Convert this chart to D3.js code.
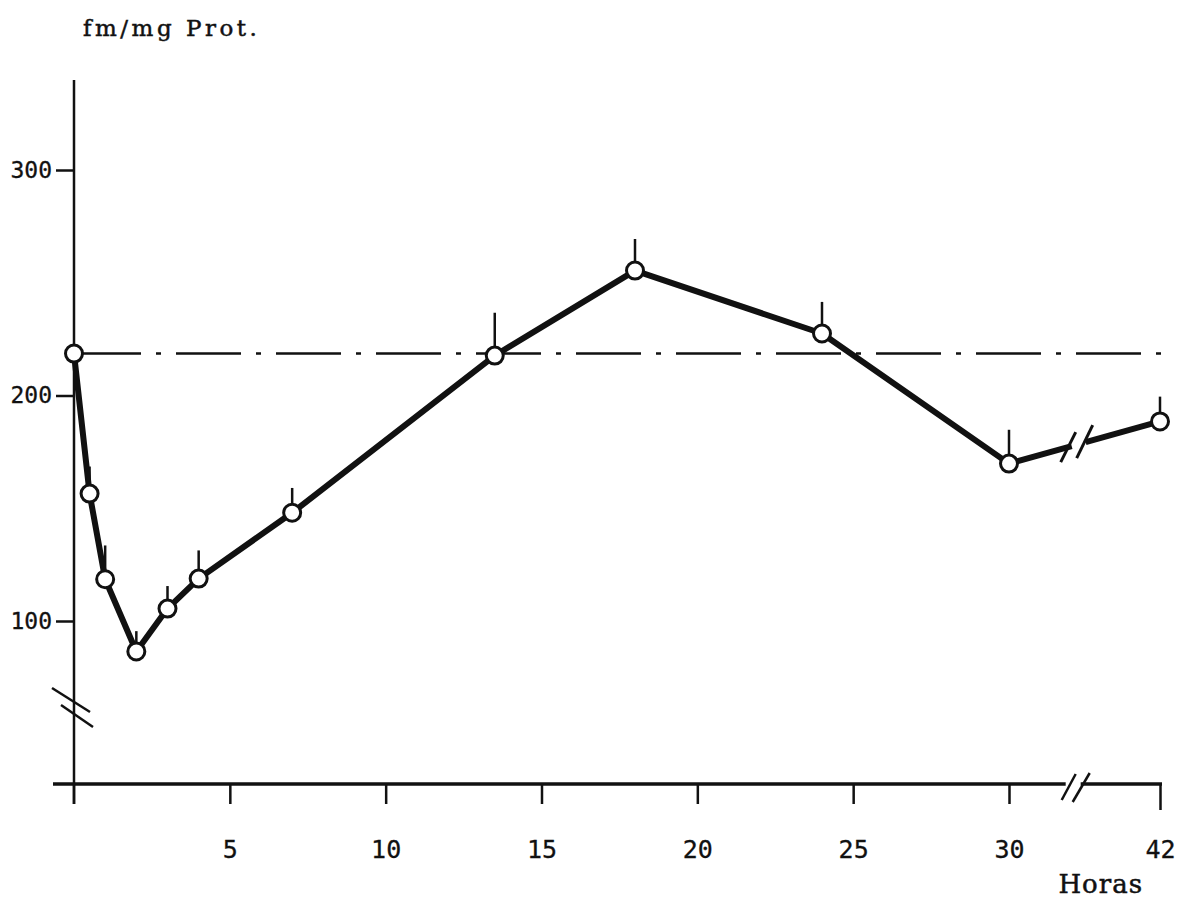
<!DOCTYPE html>
<html>
<head>
<meta charset="utf-8">
<script src="https://cdn.jsdelivr.net/npm/d3@7"></script>
<style>
  body { margin: 0; background: #fff; }
  svg { display: block; }
</style>
</head>
<body>
<svg id="chart" width="1182" height="903"></svg>
<script>
// data
var hours = [0, 0.5, 1, 2, 3, 4, 7, 13.5, 18, 24, 30, 42];
var means = [218.6, 156.5, 118.5, 86.5, 105.5, 118.8, 148, 217.7, 255.4, 227.5, 169.8, 188.5];
var errs = [0, 12, 15, 9, 10, 12.5, 11, 19, 14, 14, 15, 11];
var control = 218.6;
var xTicks = [5, 10, 15, 20, 25, 30, 42];
var yTicks = [100, 200, 300];

var svg = d3.select("#chart");

// x is compressed after 30 h (axis break)
var x = d3.scaleLinear().domain([0, 30, 42]).range([74, 1009, 1160]);
var y = d3.scaleLinear().domain([100, 300]).range([621, 170]);
var axisY = 784;
var breakHour = 35.3;

var ink = "#111";

// title
svg.append("text")
  .attr("x", 83)
  .attr("y", 36)
  .attr("font-family", "DejaVu Serif")
  .attr("font-size", 23)
  .attr("letter-spacing", 3.5)
  .attr("fill", ink)
  .attr("stroke", ink)
  .attr("stroke-width", 0.5)
  .text("fm/mg Prot.");

// y axis line
svg.append("line")
  .attr("x1", 74).attr("x2", 74)
  .attr("y1", 80).attr("y2", 804)
  .attr("stroke", ink).attr("stroke-width", 2.5);

// y axis ticks + labels
var yAxis = d3.axisLeft(y).tickValues(yTicks).tickSize(18).tickPadding(4);
var gy = svg.append("g").attr("transform", "translate(74,0)").call(yAxis);
gy.select(".domain").remove();
gy.selectAll(".tick line").attr("stroke", ink).attr("stroke-width", 2.5);
gy.selectAll(".tick text")
  .attr("font-family", "DejaVu Sans Mono")
  .attr("font-size", 23)
  .attr("fill", ink)
  .attr("stroke", ink)
  .attr("stroke-width", 0.3);

// y axis break marks
[[52, 688, 90, 712], [61, 705, 93, 727]].forEach(function (s) {
  svg.append("line")
    .attr("x1", s[0]).attr("y1", s[1]).attr("x2", s[2]).attr("y2", s[3])
    .attr("stroke", ink).attr("stroke-width", 2.5);
});

// x axis line (with break)
var xb = x(breakHour);
svg.append("line")
  .attr("x1", 53).attr("x2", xb - 10)
  .attr("y1", axisY).attr("y2", axisY)
  .attr("stroke", ink).attr("stroke-width", 3.5);
svg.append("line")
  .attr("x1", xb + 5).attr("x2", 1162)
  .attr("y1", axisY).attr("y2", axisY)
  .attr("stroke", ink).attr("stroke-width", 3.5);
svg.append("line")
  .attr("x1", xb - 14).attr("y1", axisY + 16).attr("x2", xb).attr("y2", axisY - 10)
  .attr("stroke", ink).attr("stroke-width", 2.5);
svg.append("line")
  .attr("x1", xb - 3).attr("y1", axisY + 18).attr("x2", xb + 14).attr("y2", axisY - 11)
  .attr("stroke", ink).attr("stroke-width", 2.5);

// x ticks + labels
var xAxis = d3.axisBottom(x).tickValues(xTicks).tickSize(20).tickPadding(36);
var gx = svg.append("g").attr("transform", "translate(0," + axisY + ")").call(xAxis);
gx.select(".domain").remove();
gx.selectAll(".tick line").attr("stroke", ink).attr("stroke-width", 2.5)
  .attr("y2", function (d) { return d === 42 ? 26 : 20; });
gx.selectAll(".tick text")
  .attr("font-family", "DejaVu Sans Mono")
  .attr("font-size", 25)
  .attr("fill", ink)
  .attr("stroke", ink)
  .attr("stroke-width", 0.3);
svg.append("line")
  .attr("x1", 74).attr("x2", 74).attr("y1", axisY).attr("y2", axisY + 20)
  .attr("stroke", ink).attr("stroke-width", 2.5);

// x axis title
svg.append("text")
  .attr("x", 1143)
  .attr("y", 893)
  .attr("text-anchor", "end")
  .attr("font-family", "DejaVu Serif")
  .attr("font-size", 26)
  .attr("letter-spacing", 1)
  .attr("fill", ink)
  .attr("stroke", ink)
  .attr("stroke-width", 0.5)
  .text("Horas");

// control level, dash-dot
svg.append("line")
  .attr("x1", 76).attr("x2", 1176)
  .attr("y1", y(control)).attr("y2", y(control))
  .attr("stroke", ink).attr("stroke-width", 2.5)
  .attr("stroke-dasharray", "65,15,5,15");

// error bars (upper only)
svg.append("g").selectAll("line")
  .data(hours.map(function (h, i) { return { h: h, m: means[i], e: errs[i] }; }).filter(function (d) { return d.e > 0; }))
  .join("line")
  .attr("x1", function (d) { return x(d.h); })
  .attr("x2", function (d) { return x(d.h); })
  .attr("y1", function (d) { return y(d.m); })
  .attr("y2", function (d) { return y(d.m + d.e); })
  .attr("stroke", ink).attr("stroke-width", 2.5);

// data line, broken between 30 and 42
var pts = hours.map(function (h, i) { return [x(h), y(means[i])]; });
var line = d3.line();
var n = pts.length;
var p30 = pts[n - 2], p42 = pts[n - 1];
function lerp(px) {
  var t = (px - p30[0]) / (p42[0] - p30[0]);
  return [px, p30[1] + t * (p42[1] - p30[1])];
}
var gapA = lerp(xb - 4), gapB = lerp(xb + 10);
svg.append("path")
  .attr("d", line(pts.slice(0, n - 1).concat([gapA])))
  .attr("fill", "none").attr("stroke", ink).attr("stroke-width", 6)
  .attr("stroke-linejoin", "round");
svg.append("path")
  .attr("d", line([gapB, p42]))
  .attr("fill", "none").attr("stroke", ink).attr("stroke-width", 6);
// break slashes on the data line
[[gapA[0] - 11, gapA[1] + 16, gapA[0] + 4, gapA[1] - 14],
 [gapB[0] - 9, gapB[1] + 16, gapB[0] + 7, gapB[1] - 17]].forEach(function (s) {
  svg.append("line")
    .attr("x1", s[0]).attr("y1", s[1]).attr("x2", s[2]).attr("y2", s[3])
    .attr("stroke", ink).attr("stroke-width", 3);
});

// points
svg.append("g").selectAll("circle")
  .data(pts)
  .join("circle")
  .attr("cx", function (d) { return d[0]; })
  .attr("cy", function (d) { return d[1]; })
  .attr("r", 8.5)
  .attr("fill", "#fff")
  .attr("stroke", ink)
  .attr("stroke-width", 3);
</script>
</body>
</html>
